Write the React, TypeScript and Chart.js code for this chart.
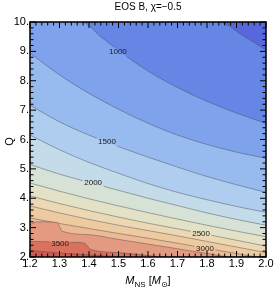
import React, { useEffect, useRef } from "react";
import { Chart, registerables } from "chart.js";

Chart.register(...registerables);

const TITLE = "EOS B, χ=−0.5";
const X_MIN = 1.2;
const X_MAX = 2.0;
const Y_MIN = 2;
const Y_MAX = 10;

// contour levels (lowest value at the top-right corner)
const levels = [750, 1000, 1250, 1500, 1750, 2000, 2250, 2500, 2750, 3000, 3250, 3500, 3750];

// contour lines, [M_NS, Q]
const c750 = [[1.2, 10], [1.84, 10], [1.92, 9.55], [2.0, 9.05]];
const c1000 = [[1.2, 10], [1.375, 10], [1.44, 9.5], [1.5, 9.03], [1.6, 8.33], [1.7, 7.77], [1.8, 7.3], [1.9, 6.9], [2.0, 6.55]];
const c1250 = [[1.2, 8.94], [1.3, 8.2], [1.4, 7.57], [1.5, 7.03], [1.6, 6.55], [1.7, 6.15], [1.8, 5.83], [1.9, 5.57], [2.0, 5.36]];
const c1500 = [[1.2, 7.17], [1.3, 6.6], [1.4, 6.15], [1.5, 5.76], [1.6, 5.4], [1.7, 5.06], [1.8, 4.74], [1.9, 4.46], [2.0, 4.2]];
const c1750 = [[1.2, 6.15], [1.3, 5.65], [1.4, 5.22], [1.5, 4.85], [1.6, 4.5], [1.7, 4.2], [1.8, 3.95], [1.9, 3.72], [2.0, 3.52]];
const c2000 = [[1.2, 5.15], [1.3, 4.82], [1.4, 4.54], [1.5, 4.27], [1.6, 4.0], [1.7, 3.75], [1.8, 3.5], [1.9, 3.28], [2.0, 3.08]];
const c2250 = [[1.2, 4.52], [1.3, 4.24], [1.4, 3.98], [1.5, 3.74], [1.6, 3.51], [1.7, 3.29], [1.8, 3.08], [1.9, 2.88], [2.0, 2.69]];
const c2500 = [[1.2, 4.08], [1.3, 3.82], [1.4, 3.58], [1.5, 3.36], [1.6, 3.15], [1.7, 2.96], [1.8, 2.77], [1.9, 2.57], [2.0, 2.37]];
const c2750 = [[1.2, 3.74], [1.3, 3.5], [1.4, 3.28], [1.5, 3.08], [1.6, 2.9], [1.7, 2.72], [1.8, 2.53], [1.9, 2.34], [2.0, 2.15]];
const c3000 = [[1.2, 3.33], [1.3, 3.14], [1.4, 2.97], [1.5, 2.8], [1.6, 2.64], [1.7, 2.47], [1.8, 2.29], [1.9, 2.12], [1.98, 2.0], [2.0, 2.0]];
const c3250 = [[1.2, 3.1], [1.225, 3.2], [1.29, 3.18], [1.31, 2.88], [1.4, 2.76], [1.5, 2.6], [1.6, 2.44], [1.7, 2.28], [1.8, 2.12], [1.89, 2.0], [2.0, 2.0]];
const c3500 = [[1.2, 2.53], [1.35, 2.5], [1.385, 2.47], [1.405, 2.26], [1.5, 2.15], [1.6, 2.05], [1.66, 2.0], [2.0, 2.0]];
const c3750 = [[1.2, 2.22], [1.3, 2.14], [1.4, 2.07], [1.5, 2.01], [1.52, 2.0], [2.0, 2.0]];

const contours = [c750, c1000, c1250, c1500, c1750, c2000, c2250, c2500, c2750, c3000, c3250, c3500, c3750];

// band colours: index 0 = below the first level, index i = between levels[i-1] and levels[i]
const bandColors = [
  "#5668dc",
  "#6686e6",
  "#7fa2ec",
  "#98bbef",
  "#afcdef",
  "#c4dbe9",
  "#d6e2d6",
  "#e3e2c6",
  "#ecd9b4",
  "#eecaa0",
  "#ecbb95",
  "#e49a80",
  "#d8725f",
  "#cf5a52",
];

// contour labels
const labelTexts = ["1000", "1500", "2000", "2500", "3000", "3500"];
const labelM = [1.498, 1.461, 1.414, 1.78, 1.793, 1.302];
const labelQ = [8.98, 5.91, 4.52, 2.78, 2.27, 2.45];

const FONT = '"Liberation Sans", Arial, sans-serif';
const LABEL_FONT = `8px ${FONT}`;

const decor = {
  id: "contourDecor",
  beforeDatasetsDraw(chart: any) {
    const { ctx, chartArea: a } = chart;
    ctx.save();
    ctx.fillStyle = bandColors[0];
    ctx.fillRect(a.left, a.top, a.right - a.left, a.bottom - a.top);
    ctx.restore();
  },
  beforeDatasetDraw(chart: any, args: any) {
    const ds = chart.data.datasets[args.index];
    const idx = labelTexts.indexOf(String(ds.level));
    ds._clipped = false;
    if (idx < 0) return;
    const { ctx, chartArea: a } = chart;
    const xs = chart.scales.x;
    const ys = chart.scales.y;
    ctx.save();
    ctx.font = LABEL_FONT;
    const w = ctx.measureText(labelTexts[idx]).width;
    const px = xs.getPixelForValue(labelM[idx]);
    const py = ys.getPixelForValue(labelQ[idx]);
    ctx.beginPath();
    ctx.rect(a.left - 10, a.top - 10, a.right - a.left + 20, a.bottom - a.top + 20);
    ctx.rect(px - w / 2 - 1.5, py - 4.5, w + 3, 9);
    ctx.clip("evenodd");
    ds._clipped = true;
  },
  afterDatasetDraw(chart: any, args: any) {
    const ds = chart.data.datasets[args.index];
    if (ds._clipped) {
      chart.ctx.restore();
      ds._clipped = false;
    }
  },
  afterDatasetsDraw(chart: any) {
    const { ctx } = chart;
    const xs = chart.scales.x;
    const ys = chart.scales.y;
    ctx.save();
    ctx.font = LABEL_FONT;
    ctx.fillStyle = "#1a1a1a";
    ctx.textAlign = "center";
    ctx.textBaseline = "middle";
    labelTexts.forEach((t, i) => {
      ctx.fillText(t, xs.getPixelForValue(labelM[i]), ys.getPixelForValue(labelQ[i]));
    });
    ctx.restore();
  },
  afterDraw(chart: any) {
    const { ctx, chartArea: a } = chart;
    const xs = chart.scales.x;
    const ys = chart.scales.y;
    ctx.save();
    ctx.strokeStyle = "#000";
    ctx.lineWidth = 1;
    ctx.beginPath();
    for (let i = 0; i <= 40; i++) {
      const v = X_MIN + (i * (X_MAX - X_MIN)) / 40;
      const px = xs.getPixelForValue(v);
      const len = i % 5 === 0 ? 6 : 3.5;
      ctx.moveTo(px, a.bottom);
      ctx.lineTo(px, a.bottom - len);
      ctx.moveTo(px, a.top);
      ctx.lineTo(px, a.top + len);
    }
    for (let i = 0; i <= 40; i++) {
      const v = Y_MIN + (i * (Y_MAX - Y_MIN)) / 40;
      const py = ys.getPixelForValue(v);
      const len = i % 5 === 0 ? 6 : 3.5;
      ctx.moveTo(a.left, py);
      ctx.lineTo(a.left + len, py);
      ctx.moveTo(a.right, py);
      ctx.lineTo(a.right - len, py);
    }
    ctx.stroke();
    ctx.lineWidth = 1.5;
    ctx.strokeRect(a.left, a.top, a.right - a.left, a.bottom - a.top);

    // title
    ctx.fillStyle = "#000";
    ctx.font = `10px ${FONT}`;
    ctx.textAlign = "center";
    ctx.textBaseline = "middle";
    ctx.fillText(TITLE, (a.left + a.right) / 2, 7);

    // y title
    ctx.save();
    ctx.font = `11px ${FONT}`;
    ctx.translate(10, (a.top + a.bottom) / 2 + 2);
    ctx.rotate(-Math.PI / 2);
    ctx.fillText("Q", 0, 0);
    ctx.restore();

    // x title
    const parts = [
      { t: "M", f: `italic 11px ${FONT}`, dy: 0 },
      { t: "NS", f: `8px ${FONT}`, dy: 3 },
      { t: " [", f: `11px ${FONT}`, dy: 0 },
      { t: "M", f: `italic 11px ${FONT}`, dy: 0 },
      { t: "⊙", f: `8px "DejaVu Sans", ${FONT}`, dy: 3 },
      { t: "]", f: `11px ${FONT}`, dy: 0 },
    ];
    let total = 0;
    const widths = parts.map((p) => {
      ctx.font = p.f;
      const w = ctx.measureText(p.t).width;
      total += w;
      return w;
    });
    let x = (a.left + a.right) / 2 - total / 2;
    ctx.textAlign = "left";
    ctx.textBaseline = "alphabetic";
    parts.forEach((p, i) => {
      ctx.font = p.f;
      ctx.fillText(p.t, x, 284 + p.dy);
      x += widths[i];
    });
    ctx.restore();
  },
};

export default function App() {
  const ref = useRef<HTMLCanvasElement | null>(null);
  useEffect(() => {
    if (!ref.current) return;
    const datasets = contours.map((c, i) => ({
      label: String(levels[i]),
      level: levels[i],
      data: c.map(([x, y]) => ({ x, y })),
      showLine: true,
      pointRadius: 0,
      borderColor: "rgba(70,70,80,0.55)",
      borderWidth: 0.8,
      backgroundColor: bandColors[i + 1],
      fill: "start",
      cubicInterpolationMode: "monotone",
      order: contours.length - i,
    }));
    const chart = new Chart(ref.current, {
      type: "scatter",
      data: { datasets: datasets as any },
      plugins: [decor],
      options: {
        animation: false,
        responsive: false,
        devicePixelRatio: 1,
        layout: { padding: { top: 22, right: 8, left: 0, bottom: 0 } },
        plugins: { legend: { display: false }, tooltip: { enabled: false }, title: { display: false } },
        scales: {
          x: {
            type: "linear",
            min: X_MIN,
            max: X_MAX,
            grid: { display: false, drawTicks: false },
            border: { display: false },
            ticks: {
              stepSize: 0.1,
              autoSkip: false,
              maxRotation: 0,
              padding: 0,
              color: "#000",
              font: { family: FONT, size: 11 },
              callback: (v: any) => Number(v).toFixed(1),
            },
            afterFit: (s: any) => {
              s.height = 34;
            },
          },
          y: {
            type: "linear",
            min: Y_MIN,
            max: Y_MAX,
            grid: { display: false, drawTicks: false },
            border: { display: false },
            ticks: {
              stepSize: 1,
              autoSkip: false,
              padding: 1,
              color: "#000",
              font: { family: FONT, size: 11 },
              callback: (v: any) => `${Math.round(Number(v))}.`,
            },
            afterFit: (s: any) => {
              s.width = 30;
            },
          },
        },
      } as any,
    });
    return () => chart.destroy();
  }, []);
  return (
    <div style={{ position: "fixed", left: 0, top: 0, width: 274, height: 291 }}>
      <canvas ref={ref} width={274} height={291} style={{ width: 274, height: 291 }} />
    </div>
  );
}
